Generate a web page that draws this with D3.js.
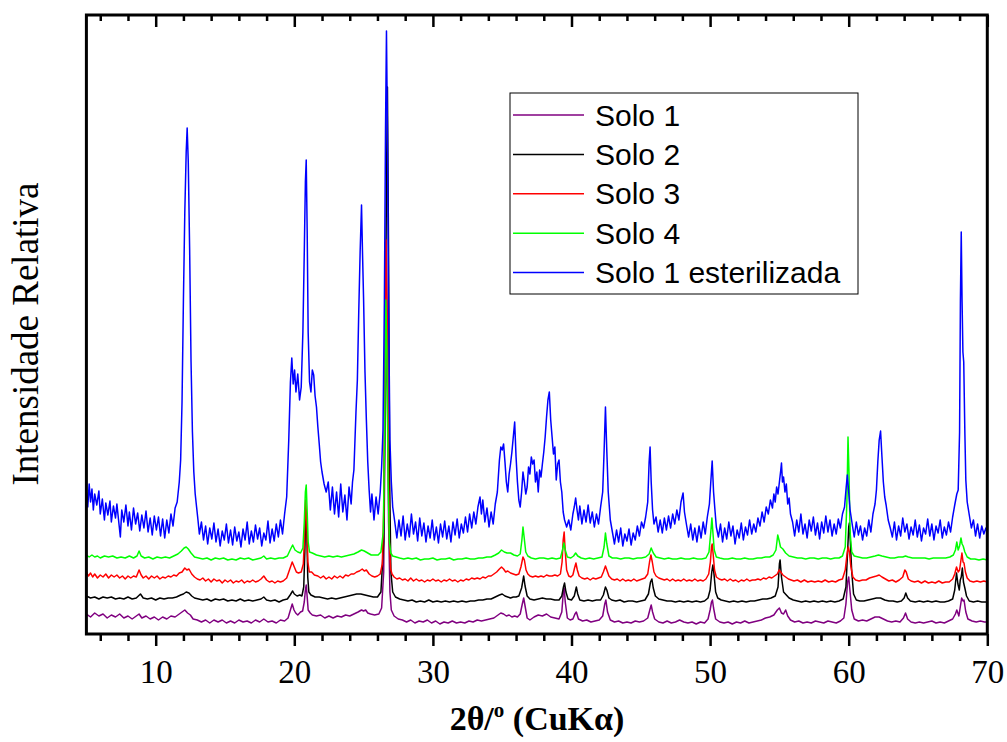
<!DOCTYPE html>
<html>
<head>
<meta charset="utf-8">
<title>DRX - solos</title>
<style>
  body { margin:0; background:#fff; }
  .eixo text { font-family:"Liberation Serif","Times New Roman",serif; font-size:33px; fill:#000; }
  .eixo path { display:none; }
  .eixo line { stroke:#000; stroke-width:2.5; }
  .leg text { font-family:"Liberation Sans",Arial,sans-serif; font-size:30px; fill:#000; }
</style>
</head>
<body>
<div id="grafico"></div>
<script src="https://d3js.org/d3.v7.min.js"></script>
<script>

// nomes e cores das series (ordem de desenho)
const serieNomes = ["Solo 1", "Solo 2", "Solo 3", "Solo 4", "Solo 1 esterilizada"];
const serieCores = ["#800080", "#000000", "#ff0000", "#00ff00", "#0000ff"];
const xTicks = [10, 20, 30, 40, 50, 60, 70];
const xMenores = [6, 8, 12, 14, 16, 18, 22, 24, 26, 28, 32, 34, 36, 38, 42, 44, 46, 48, 52, 54, 56, 58, 62, 64, 66, 68];

const solo1 = [[5.0,18],[5.3,15],[5.6,19],[5.9,16],[6.2,18],[6.5,14],[6.8,17],[7.1,15],[7.4,18],[7.7,14],[8.0,16],[8.3,13],[8.6,16],[8.8,18],[9.0,14],[9.3,16],[9.6,13],[9.9,15],[10.2,12],[10.5,15],[10.8,13],[11.1,16],[11.4,15],[11.7,18],[11.9,20],[12.1,22],[12.3,19],[12.5,17],[12.7,13],[13.0,12],[13.3,10],[13.6,12],[13.9,9],[14.2,12],[14.5,10],[14.8,12],[15.1,9],[15.4,11],[15.7,9],[16.0,12],[16.3,10],[16.6,11],[16.9,9],[17.2,12],[17.5,10],[17.8,13],[18.1,10],[18.4,11],[18.7,9],[19.0,12],[19.3,11],[19.55,14],[19.72,22],[19.85,28],[19.98,22],[20.1,19],[20.25,17],[20.45,20],[20.6,21],[20.72,30],[20.8,42],[20.86,47],[20.93,35],[21.0,22],[21.15,19],[21.3,17],[21.6,16],[21.9,17],[22.2,14],[22.5,16],[22.8,14],[23.1,16],[23.4,15],[23.7,17],[24.0,16],[24.3,18],[24.6,20],[24.85,22],[25.0,21],[25.15,22],[25.3,19],[25.5,18],[25.8,17],[26.1,18],[26.3,24],[26.45,60],[26.55,200],[26.65,302],[26.72,240],[26.8,110],[26.9,40],[27.0,22],[27.2,16],[27.5,13],[27.8,12],[28.1,10],[28.4,12],[28.7,9],[29.0,11],[29.3,10],[29.6,12],[29.9,9],[30.2,11],[30.5,8],[30.8,10],[31.1,9],[31.4,11],[31.7,9],[32.0,10],[32.3,9],[32.6,11],[32.9,10],[33.2,12],[33.5,11],[33.8,12],[34.1,13],[34.4,14],[34.7,17],[34.9,19],[35.1,18],[35.3,16],[35.5,17],[35.7,15],[35.9,16],[36.1,15],[36.3,18],[36.45,28],[36.55,34],[36.65,26],[36.8,14],[37.0,12],[37.3,15],[37.6,17],[37.9,16],[38.2,18],[38.5,15],[38.8,14],[39.1,13],[39.3,20],[39.4,38],[39.47,44],[39.55,30],[39.7,14],[39.9,12],[40.1,13],[40.25,18],[40.35,20],[40.5,13],[40.8,11],[41.1,12],[41.4,10],[41.7,11],[42.0,12],[42.25,16],[42.4,28],[42.48,32],[42.6,20],[42.8,12],[43.1,10],[43.4,11],[43.7,9],[44.0,10],[44.3,9],[44.6,11],[44.9,10],[45.2,11],[45.5,14],[45.65,22],[45.75,27],[45.85,20],[46.0,13],[46.3,10],[46.6,9],[46.9,11],[47.2,9],[47.5,10],[47.8,12],[48.1,10],[48.4,9],[48.7,10],[49.0,8],[49.3,10],[49.6,9],[49.85,13],[50.0,22],[50.1,30],[50.17,32],[50.25,24],[50.4,13],[50.7,10],[51.0,9],[51.3,10],[51.6,8],[51.9,10],[52.2,9],[52.5,11],[52.8,9],[53.1,10],[53.4,11],[53.7,12],[54.0,14],[54.3,15],[54.6,17],[54.85,22],[55.0,24],[55.15,19],[55.3,18],[55.45,22],[55.6,16],[55.8,12],[56.1,10],[56.4,11],[56.7,9],[57.0,10],[57.3,9],[57.6,11],[57.9,10],[58.2,9],[58.5,11],[58.8,10],[59.1,9],[59.4,11],[59.65,14],[59.8,28],[59.92,50],[60.0,55],[60.1,40],[60.22,22],[60.4,13],[60.7,11],[61.0,12],[61.3,11],[61.6,13],[61.9,15],[62.2,15],[62.5,13],[62.8,11],[63.1,10],[63.4,11],[63.7,10],[63.95,14],[64.1,19],[64.25,13],[64.5,10],[64.8,9],[65.1,10],[65.4,9],[65.7,10],[66.0,11],[66.3,9],[66.6,10],[66.9,9],[67.2,11],[67.5,13],[67.7,18],[67.8,22],[67.95,16],[68.05,25],[68.15,34],[68.25,31],[68.32,32],[68.45,20],[68.6,13],[68.9,11],[69.2,10],[69.5,11],[69.8,10],[70.0,10]];

const solo2 = [[5.0,36],[5.3,34],[5.6,35],[5.9,33],[6.2,35],[6.5,34],[6.8,35],[7.1,33],[7.4,34],[7.7,33],[8.0,35],[8.3,33],[8.6,34],[8.9,38],[9.1,34],[9.4,33],[9.7,34],[10.0,32],[10.3,34],[10.6,33],[10.9,34],[11.2,34],[11.5,35],[11.8,37],[12.0,38],[12.2,40],[12.4,39],[12.6,36],[12.8,34],[13.1,33],[13.4,32],[13.7,33],[14.0,31],[14.3,33],[14.6,32],[14.9,33],[15.2,31],[15.5,32],[15.8,31],[16.1,33],[16.4,31],[16.7,32],[17.0,31],[17.3,32],[17.6,33],[17.8,35],[18.0,32],[18.3,31],[18.6,32],[18.9,30],[19.2,32],[19.5,33],[19.7,37],[19.88,41],[20.0,38],[20.2,36],[20.4,37],[20.55,36],[20.68,45],[20.76,80],[20.83,122],[20.9,100],[20.97,55],[21.05,40],[21.2,37],[21.5,35],[21.8,35],[22.1,34],[22.4,33],[22.7,34],[23.0,33],[23.3,34],[23.6,35],[23.9,36],[24.2,37],[24.5,38],[24.8,38],[25.1,37],[25.4,36],[25.7,35],[26.0,35],[26.25,40],[26.45,90],[26.55,250],[26.65,450],[26.72,545],[26.8,380],[26.88,150],[26.97,60],[27.1,40],[27.3,35],[27.6,33],[27.9,32],[28.2,31],[28.5,32],[28.8,30],[29.1,31],[29.4,30],[29.7,32],[30.0,30],[30.3,31],[30.6,30],[30.9,31],[31.2,30],[31.5,31],[31.8,30],[32.1,31],[32.4,30],[32.7,31],[33.0,31],[33.3,32],[33.6,32],[33.9,33],[34.2,33],[34.5,35],[34.8,37],[35.0,38],[35.2,36],[35.4,35],[35.6,34],[35.8,35],[36.0,35],[36.2,36],[36.4,44],[36.55,56],[36.65,46],[36.8,36],[37.0,33],[37.3,32],[37.6,33],[37.9,34],[38.2,33],[38.5,33],[38.8,32],[39.1,32],[39.3,36],[39.42,45],[39.5,49],[39.6,40],[39.75,33],[40.0,32],[40.2,36],[40.35,45],[40.45,38],[40.6,32],[40.9,31],[41.2,32],[41.5,31],[41.8,32],[42.1,32],[42.3,37],[42.45,45],[42.55,42],[42.7,34],[42.9,32],[43.2,31],[43.5,32],[43.8,30],[44.1,31],[44.4,31],[44.7,30],[45.0,31],[45.3,32],[45.55,38],[45.7,50],[45.8,53],[45.9,44],[46.05,36],[46.3,33],[46.6,32],[46.9,31],[47.2,31],[47.5,30],[47.8,31],[48.1,30],[48.4,31],[48.7,30],[49.0,31],[49.3,30],[49.6,31],[49.85,34],[50.0,42],[50.12,60],[50.2,67],[50.28,58],[50.4,40],[50.55,34],[50.8,32],[51.1,31],[51.4,30],[51.7,31],[52.0,30],[52.3,31],[52.6,30],[52.9,31],[53.2,31],[53.5,32],[53.8,33],[54.1,33],[54.4,34],[54.7,36],[54.9,45],[55.0,68],[55.05,72],[55.15,55],[55.3,40],[55.5,37],[55.7,34],[56.0,32],[56.3,31],[56.6,30],[56.9,31],[57.2,30],[57.5,31],[57.8,30],[58.1,31],[58.4,30],[58.7,31],[59.0,30],[59.3,31],[59.6,33],[59.8,45],[59.92,80],[60.0,105],[60.05,109],[60.12,90],[60.22,60],[60.35,38],[60.55,32],[60.8,31],[61.1,31],[61.4,32],[61.7,33],[62.0,34],[62.3,34],[62.6,32],[62.9,31],[63.2,31],[63.5,30],[63.8,31],[64.0,34],[64.12,39],[64.25,34],[64.45,31],[64.8,30],[65.1,31],[65.4,30],[65.7,31],[66.0,30],[66.3,31],[66.6,30],[66.9,30],[67.2,31],[67.5,33],[67.65,42],[67.78,59],[67.88,48],[67.98,42],[68.05,52],[68.12,55],[68.2,64],[68.28,50],[68.38,44],[68.5,36],[68.7,31],[69.0,30],[69.3,31],[69.6,30],[70.0,30]];

const solo3 = [[5.0,60],[5.15,56],[5.3,59],[5.45,55],[5.6,58],[5.8,54],[6.0,57],[6.2,55],[6.4,58],[6.6,54],[6.8,57],[7.0,55],[7.2,57],[7.4,54],[7.6,56],[7.8,53],[8.0,56],[8.2,54],[8.4,56],[8.6,55],[8.8,62],[8.95,57],[9.1,54],[9.3,56],[9.5,53],[9.7,56],[9.9,54],[10.1,56],[10.3,53],[10.5,55],[10.7,54],[10.9,56],[11.1,55],[11.3,57],[11.5,56],[11.7,59],[11.9,60],[12.1,64],[12.25,62],[12.4,63],[12.6,58],[12.8,55],[13.0,53],[13.2,52],[13.4,54],[13.6,51],[13.8,53],[14.0,50],[14.2,53],[14.4,51],[14.6,52],[14.8,49],[15.0,52],[15.2,50],[15.4,52],[15.6,49],[15.8,51],[16.0,50],[16.2,52],[16.4,49],[16.6,51],[16.8,50],[17.0,52],[17.2,50],[17.4,51],[17.6,53],[17.8,56],[18.0,52],[18.2,50],[18.4,51],[18.6,49],[18.8,51],[19.0,50],[19.2,51],[19.45,54],[19.65,62],[19.85,70],[20.0,65],[20.15,60],[20.3,59],[20.5,60],[20.65,68],[20.74,95],[20.82,132],[20.9,110],[20.98,70],[21.08,60],[21.25,60],[21.45,57],[21.7,56],[21.9,54],[22.1,56],[22.3,53],[22.5,55],[22.7,53],[22.9,56],[23.1,54],[23.3,56],[23.5,54],[23.7,57],[23.9,56],[24.1,58],[24.3,58],[24.5,60],[24.7,61],[24.9,63],[25.05,61],[25.2,62],[25.4,58],[25.6,56],[25.8,55],[26.0,56],[26.2,58],[26.35,68],[26.45,120],[26.55,290],[26.62,392],[26.7,330],[26.78,180],[26.86,90],[26.95,63],[27.05,58],[27.2,55],[27.4,53],[27.6,54],[27.8,52],[28.0,53],[28.2,51],[28.4,54],[28.6,51],[28.8,53],[29.0,51],[29.2,52],[29.4,50],[29.6,52],[29.8,51],[30.0,53],[30.2,51],[30.4,52],[30.6,50],[30.8,52],[31.0,51],[31.2,53],[31.4,51],[31.6,52],[31.8,50],[32.0,52],[32.2,51],[32.4,53],[32.6,52],[32.8,54],[33.0,53],[33.2,54],[33.4,53],[33.6,55],[33.8,54],[34.0,56],[34.2,56],[34.4,58],[34.6,60],[34.8,63],[34.95,65],[35.1,63],[35.25,60],[35.4,61],[35.6,59],[35.8,58],[36.0,57],[36.2,58],[36.35,65],[36.5,75],[36.6,72],[36.72,62],[36.85,58],[37.0,56],[37.2,55],[37.4,56],[37.6,55],[37.8,56],[38.0,55],[38.2,57],[38.4,56],[38.6,56],[38.8,57],[39.0,56],[39.2,58],[39.32,70],[39.4,92],[39.47,100],[39.55,80],[39.65,62],[39.8,56],[39.95,55],[40.1,57],[40.22,64],[40.32,69],[40.42,62],[40.55,56],[40.75,54],[40.95,53],[41.15,54],[41.35,52],[41.55,54],[41.75,53],[41.95,54],[42.15,55],[42.3,60],[42.45,66],[42.55,62],[42.7,56],[42.9,53],[43.1,52],[43.3,53],[43.5,51],[43.7,53],[43.9,51],[44.1,52],[44.3,51],[44.5,53],[44.7,51],[44.9,52],[45.1,53],[45.3,54],[45.5,58],[45.63,70],[45.73,77],[45.83,70],[45.95,60],[46.1,56],[46.3,54],[46.5,53],[46.7,52],[46.9,53],[47.1,51],[47.3,53],[47.5,51],[47.7,52],[47.9,51],[48.1,53],[48.3,51],[48.5,52],[48.7,51],[48.9,53],[49.1,51],[49.3,52],[49.5,51],[49.7,53],[49.9,58],[50.02,70],[50.1,85],[50.15,88],[50.22,78],[50.32,62],[50.45,55],[50.65,53],[50.85,52],[51.05,53],[51.25,51],[51.45,53],[51.65,51],[51.85,52],[52.05,50],[52.25,52],[52.45,51],[52.65,53],[52.85,51],[53.05,52],[53.25,52],[53.45,53],[53.65,52],[53.85,54],[54.05,53],[54.25,55],[54.45,54],[54.65,56],[54.85,58],[54.98,62],[55.1,60],[55.25,57],[55.45,55],[55.65,53],[55.85,52],[56.05,51],[56.3,52],[56.55,50],[56.8,52],[57.05,50],[57.3,51],[57.55,50],[57.8,51],[58.05,50],[58.3,52],[58.55,50],[58.8,51],[59.05,50],[59.3,52],[59.55,53],[59.75,62],[59.88,78],[59.97,85],[60.05,80],[60.15,66],[60.3,55],[60.5,52],[60.75,51],[61.0,52],[61.25,52],[61.5,54],[61.75,55],[62.0,56],[62.2,57],[62.4,55],[62.65,53],[62.9,51],[63.15,52],[63.4,50],[63.65,52],[63.9,55],[64.05,62],[64.15,60],[64.3,53],[64.5,51],[64.75,50],[65.0,51],[65.25,49],[65.5,51],[65.75,49],[66.0,50],[66.25,49],[66.5,51],[66.75,49],[67.0,50],[67.25,50],[67.5,53],[67.65,58],[67.78,65],[67.9,60],[68.0,62],[68.1,72],[68.17,79],[68.25,70],[68.32,69],[68.42,60],[68.55,54],[68.75,51],[69.0,50],[69.25,51],[69.5,50],[69.75,51],[70.0,50]];

const solo4 = [[5.0,77],[5.2,75],[5.4,77],[5.6,75],[5.8,76],[6.0,74],[6.3,76],[6.6,75],[6.9,76],[7.2,74],[7.5,75],[7.8,74],[8.1,76],[8.4,74],[8.65,76],[8.8,81],[8.95,76],[9.2,74],[9.5,75],[9.8,73],[10.1,75],[10.4,74],[10.7,75],[11.0,74],[11.3,76],[11.6,78],[11.85,81],[12.05,84],[12.2,85],[12.35,83],[12.55,79],[12.8,75],[13.1,74],[13.4,73],[13.7,74],[14.0,72],[14.3,74],[14.6,73],[14.9,74],[15.2,72],[15.5,73],[15.8,72],[16.1,74],[16.4,73],[16.7,74],[17.0,72],[17.3,73],[17.6,74],[17.8,76],[18.0,73],[18.3,74],[18.6,73],[18.9,74],[19.2,74],[19.5,76],[19.7,82],[19.88,87],[20.05,82],[20.25,80],[20.45,79],[20.62,84],[20.72,110],[20.8,140],[20.86,147],[20.93,120],[21.0,90],[21.1,80],[21.3,79],[21.6,77],[21.9,76],[22.2,75],[22.5,76],[22.8,75],[23.1,76],[23.4,75],[23.7,76],[24.0,77],[24.3,78],[24.6,80],[24.85,82],[25.05,81],[25.3,79],[25.55,77],[25.8,77],[26.05,77],[26.25,80],[26.42,100],[26.52,200],[26.6,332],[26.68,280],[26.77,150],[26.86,90],[26.96,79],[27.1,76],[27.35,75],[27.6,74],[27.9,73],[28.2,74],[28.5,73],[28.8,74],[29.1,72],[29.4,73],[29.7,73],[30.0,74],[30.3,72],[30.6,73],[30.9,73],[31.2,74],[31.5,72],[31.8,73],[32.1,73],[32.4,74],[32.7,73],[33.0,73],[33.3,74],[33.6,74],[33.9,75],[34.2,75],[34.5,77],[34.75,79],[34.95,82],[35.15,80],[35.35,79],[35.6,79],[35.85,77],[36.1,76],[36.3,78],[36.42,92],[36.5,105],[36.58,95],[36.7,80],[36.85,76],[37.1,74],[37.4,73],[37.7,74],[38.0,74],[38.3,73],[38.6,74],[38.9,73],[39.2,74],[39.35,82],[39.45,89],[39.55,82],[39.7,75],[39.95,74],[40.15,76],[40.3,79],[40.45,76],[40.7,74],[41.0,73],[41.3,74],[41.6,73],[41.9,74],[42.2,75],[42.35,85],[42.45,99],[42.55,88],[42.7,76],[42.95,74],[43.25,74],[43.55,73],[43.85,74],[44.15,74],[44.45,73],[44.75,74],[45.05,74],[45.35,75],[45.6,78],[45.75,84],[45.9,79],[46.1,75],[46.4,74],[46.7,73],[47.0,74],[47.3,73],[47.6,73],[47.9,74],[48.2,73],[48.5,73],[48.8,74],[49.1,73],[49.4,73],[49.7,74],[49.92,80],[50.05,100],[50.13,114],[50.2,100],[50.3,82],[50.45,75],[50.7,74],[51.0,73],[51.3,73],[51.6,74],[51.9,73],[52.2,73],[52.5,74],[52.8,73],[53.1,73],[53.4,74],[53.7,74],[54.0,75],[54.3,75],[54.55,77],[54.75,82],[54.88,97],[54.97,92],[55.08,85],[55.25,83],[55.45,79],[55.7,76],[56.0,75],[56.3,74],[56.6,74],[56.9,73],[57.2,74],[57.5,74],[57.8,73],[58.1,74],[58.4,74],[58.7,73],[59.0,74],[59.3,74],[59.55,76],[59.75,85],[59.87,130],[59.95,195],[60.02,160],[60.1,100],[60.22,80],[60.4,76],[60.7,75],[61.0,74],[61.3,74],[61.6,75],[61.9,76],[62.15,77],[62.4,76],[62.7,75],[63.0,74],[63.3,74],[63.6,75],[63.9,75],[64.1,76],[64.3,75],[64.6,74],[64.9,74],[65.2,74],[65.5,74],[65.8,73],[66.1,74],[66.4,74],[66.7,74],[67.0,74],[67.3,75],[67.55,77],[67.7,82],[67.8,90],[67.9,82],[68.0,86],[68.1,94],[68.18,88],[68.26,86],[68.38,80],[68.55,75],[68.8,73],[69.1,73],[69.4,72],[69.7,73],[70.0,72]];

const solo1Est = [[5.0,140],[5.1,125],[5.2,148],[5.3,130],[5.4,143],[5.5,122],[5.6,138],[5.75,127],[5.9,141],[6.0,118],[6.15,133],[6.3,112],[6.4,129],[6.55,117],[6.7,131],[6.8,110],[6.95,126],[7.1,114],[7.2,128],[7.35,108],[7.45,95],[7.55,122],[7.7,110],[7.85,127],[8.0,106],[8.1,120],[8.25,102],[8.4,124],[8.55,108],[8.7,119],[8.85,101],[9.0,117],[9.15,104],[9.3,121],[9.45,100],[9.6,114],[9.75,97],[9.9,116],[10.05,102],[10.2,115],[10.35,96],[10.5,113],[10.65,94],[10.8,112],[10.95,99],[11.1,118],[11.25,106],[11.4,124],
  [11.55,130],[11.7,150],[11.8,172],[11.9,230],[12.0,332],[12.1,420],[12.2,480],[12.27,504],[12.35,470],[12.45,382],[12.55,270],[12.65,200],[12.75,160],[12.85,138],[12.95,125],[13.05,112],
  [13.15,98],[13.3,110],[13.45,92],[13.6,106],[13.75,88],[13.9,104],[14.05,93],[14.2,109],[14.35,90],[14.5,103],[14.65,86],[14.8,101],[14.95,92],[15.1,108],[15.25,89],[15.4,102],[15.55,87],[15.7,105],[15.85,91],[16.0,100],[16.15,85],[16.3,103],[16.45,92],[16.6,110],[16.75,88],[16.9,101],[17.05,90],[17.2,107],[17.35,93],[17.5,104],[17.65,86],[17.8,99],[17.95,92],[18.1,111],[18.25,89],[18.4,103],[18.55,91],[18.7,108],[18.85,95],[19.0,112],[19.15,98],[19.3,118],
  [19.45,135],[19.6,192],[19.72,250],[19.82,274],[19.92,248],[20.02,262],[20.12,240],[20.25,258],[20.38,232],[20.5,245],[20.62,300],[20.72,380],[20.8,450],[20.86,472],[20.93,400],[21.0,300],[21.1,250],[21.2,240],[21.3,262],[21.4,257],[21.5,236],[21.6,225],[21.7,205],[21.8,188],[21.9,170],[22.0,160],[22.15,148],[22.3,140],
  [22.45,150],[22.6,122],[22.75,145],[22.9,118],[23.05,140],[23.2,115],[23.35,148],[23.5,120],[23.65,137],[23.8,112],[23.95,145],[24.1,128],[24.2,150],
  [24.3,162],[24.45,220],[24.55,252],[24.65,320],[24.75,380],[24.85,427],[24.92,380],[25.0,332],[25.1,260],[25.2,212],[25.3,170],[25.4,142],[25.5,120],[25.6,138],[25.75,112],[25.9,135],[26.05,118],[26.2,140],[26.3,165],
  [26.4,202],[26.5,330],[26.58,500],[26.65,601],[26.72,500],[26.8,330],[26.9,192],[27.0,150],[27.1,125],
  [27.25,110],[27.4,94],[27.55,112],[27.7,96],[27.85,116],[28.0,92],[28.15,108],[28.3,95],[28.45,118],[28.6,98],[28.75,110],[28.9,91],[29.05,114],[29.2,96],[29.35,109],[29.5,90],[29.65,106],[29.8,94],[29.95,112],[30.1,92],[30.25,105],[30.4,89],[30.55,108],[30.7,95],[30.85,111],[31.0,93],[31.15,106],[31.3,90],[31.45,110],[31.6,97],[31.75,113],[31.9,94],[32.05,108],[32.2,99],[32.35,115],[32.5,100],[32.65,118],[32.8,104],[32.95,120],
  [33.1,108],[33.25,125],[33.4,135],[33.5,118],[33.6,132],[33.75,110],[33.9,124],[34.05,105],[34.2,120],[34.35,108],[34.5,128],[34.65,140],
  [34.8,172],[34.9,185],[35.0,182],[35.1,188],[35.2,170],[35.3,150],[35.4,140],[35.5,158],[35.6,168],[35.7,180],[35.8,195],[35.9,210],[36.0,175],[36.1,150],[36.2,132],[36.3,125],[36.4,140],[36.5,160],[36.6,150],[36.7,138],[36.8,145],[36.9,165],[37.0,158],[37.1,175],[37.2,168],[37.3,172],[37.4,150],[37.5,160],[37.6,140],[37.7,162],[37.8,155],[37.9,168],[38.0,180],[38.1,195],[38.2,215],[38.3,232],[38.4,240],[38.5,212],[38.6,195],[38.7,178],[38.8,185],[38.9,152],[39.0,168],[39.1,172],[39.2,150],[39.3,140],[39.4,120],[39.5,112],
  [39.65,105],[39.8,112],[39.95,102],[40.1,118],[40.2,125],[40.3,134],[40.4,122],[40.5,112],[40.6,126],[40.75,108],[40.9,122],[41.05,110],[41.2,127],[41.35,109],[41.5,120],[41.65,105],[41.8,118],[41.95,108],[42.1,125],[42.25,140],[42.35,180],[42.45,225],[42.55,180],[42.65,140],[42.8,112],
  [42.95,100],[43.1,88],[43.25,102],[43.4,90],[43.55,104],[43.7,86],[43.85,98],[44.0,91],[44.15,103],[44.3,87],[44.45,99],[44.6,92],[44.75,106],[44.9,96],[45.05,110],[45.2,104],[45.35,115],[45.5,130],[45.6,170],[45.67,185],[45.75,150],[45.85,122],[45.95,108],
  [46.1,115],[46.25,100],[46.4,112],[46.55,99],[46.7,114],[46.85,102],[47.0,116],[47.15,104],[47.3,118],[47.45,108],[47.6,122],[47.75,112],[47.9,130],[48.05,139],[48.15,120],[48.3,107],
  [48.45,95],[48.6,108],[48.75,92],[48.9,104],[49.05,90],[49.2,106],[49.35,94],[49.5,110],[49.65,98],[49.8,115],[49.95,128],[50.05,150],[50.15,171],[50.25,140],[50.35,122],[50.45,105],
  [50.6,95],[50.75,108],[50.9,90],[51.05,104],[51.2,93],[51.35,110],[51.5,96],[51.65,106],[51.8,88],[51.95,102],[52.1,94],[52.25,109],[52.4,92],[52.55,105],[52.7,97],[52.85,112],[53.0,98],[53.15,108],[53.3,100],[53.45,114],[53.6,106],
  [53.75,120],[53.9,110],[54.05,125],[54.2,118],[54.35,132],[54.5,124],[54.6,138],[54.7,130],[54.8,145],[54.9,138],[55.0,150],[55.1,162],[55.15,169],[55.22,150],[55.3,155],[55.4,140],[55.5,148],[55.6,128],[55.7,134],[55.8,118],
  [55.95,110],[56.1,96],[56.25,112],[56.4,100],[56.55,118],[56.7,98],[56.85,108],[57.0,94],[57.15,112],[57.3,101],[57.45,115],[57.6,97],[57.75,109],[57.9,93],[58.05,110],[58.2,99],[58.35,116],[58.5,100],[58.65,112],[58.8,96],[58.95,108],[59.1,98],[59.25,113],[59.4,104],[59.55,118],[59.7,125],[59.82,145],[59.9,157],[60.0,140],[60.1,122],
  [60.25,108],[60.4,95],[60.55,110],[60.7,97],[60.85,106],[61.0,92],[61.15,104],[61.3,96],[61.45,112],[61.6,100],[61.75,118],[61.9,128],[62.0,142],[62.1,170],[62.2,192],[62.3,201],[62.4,175],[62.5,150],[62.6,135],[62.7,127],[62.85,112],
  [63.0,104],[63.15,95],[63.3,110],[63.45,92],[63.6,106],[63.75,96],[63.9,114],[64.05,100],[64.2,108],[64.35,93],[64.5,105],[64.65,97],[64.8,112],[64.95,95],[65.1,107],[65.25,91],[65.4,104],[65.55,98],[65.7,113],[65.85,96],[66.0,108],[66.15,92],[66.3,106],[66.45,99],[66.6,112],[66.75,94],[66.9,105],[67.05,97],[67.2,110],[67.35,100],[67.5,115],[67.65,127],[67.8,138],[67.9,142],[68.0,200],[68.06,332],[68.12,400],[68.18,330],[68.24,280],[68.3,270],[68.38,200],[68.45,152],[68.55,130],[68.7,117],
  [68.85,104],[69.0,112],[69.15,96],[69.3,108],[69.45,94],[69.6,106],[69.75,98],[69.9,104],[70.0,100]];

const series = [solo1, solo2, solo3, solo4, solo1Est];

const W = 1007, H = 742;
const esq = 86.4, dir = 987.3, topo = 15, base = 634;

const svg = d3.select("#grafico").append("svg")
  .attr("width", W)
  .attr("height", H);

const x = d3.scaleLinear().domain([5, 70]).range([esq, dir]);
const y = d3.scaleLinear().domain([-2, 617]).range([base, topo]);

svg.append("clipPath").attr("id", "area")
  .append("rect")
  .attr("x", esq).attr("y", topo)
  .attr("width", dir - esq).attr("height", base - topo);

const linha = d3.line()
  .x(d => x(d[0]))
  .y(d => y(d[1]));

svg.append("g").attr("clip-path", "url(#area)")
  .selectAll("path")
  .data(series)
  .join("path")
  .attr("d", linha)
  .attr("fill", "none")
  .attr("stroke", (d, i) => serieCores[i])
  .attr("stroke-width", 1.5)
  .attr("stroke-linejoin", "round");

// eixo de baixo (ticks para fora)
svg.append("g").attr("class", "eixo")
  .attr("transform", "translate(0," + base + ")")
  .call(d3.axisBottom(x).tickValues(xTicks).tickSize(12).tickPadding(14).tickFormat(d3.format("d")));
svg.append("g").attr("class", "eixo")
  .attr("transform", "translate(0," + base + ")")
  .call(d3.axisBottom(x).tickValues(xMenores).tickSize(7).tickFormat(""));

// eixo de cima (ticks para dentro)
svg.append("g").attr("class", "eixo")
  .attr("transform", "translate(0," + topo + ")")
  .call(d3.axisBottom(x).tickValues(xTicks).tickSize(12).tickFormat(""));
svg.append("g").attr("class", "eixo")
  .attr("transform", "translate(0," + topo + ")")
  .call(d3.axisBottom(x).tickValues(xMenores).tickSize(6).tickFormat(""));

// moldura
svg.append("rect")
  .attr("x", esq).attr("y", topo)
  .attr("width", dir - esq).attr("height", base - topo)
  .attr("fill", "none")
  .attr("stroke", "#000")
  .attr("stroke-width", 3);

// titulos
const tx = svg.append("text")
  .attr("x", 537).attr("y", 730)
  .attr("text-anchor", "middle")
  .style("font-family", '"Liberation Serif","Times New Roman",serif')
  .style("font-size", "34px")
  .style("font-weight", "bold");
tx.append("tspan").text("2θ/");
tx.append("tspan").attr("dy", -13).style("font-size", "21px").text("o");
tx.append("tspan").attr("dy", 13).text(" (CuKα)");

svg.append("text")
  .attr("transform", "translate(38,334) rotate(-90)")
  .attr("text-anchor", "middle")
  .style("font-family", '"Liberation Serif","Times New Roman",serif')
  .style("font-size", "37px")
  .text("Intensidade Relativa");

// legenda
const leg = svg.append("g").attr("class", "leg");
leg.append("rect")
  .attr("x", 510).attr("y", 93)
  .attr("width", 348).attr("height", 201)
  .attr("fill", "#fff")
  .attr("stroke", "#000")
  .attr("stroke-width", 1);

const item = leg.selectAll("g.item")
  .data(serieNomes)
  .join("g")
  .attr("class", "item")
  .attr("transform", (d, i) => "translate(0," + (115 + i * 39.4) + ")");
item.append("line")
  .attr("x1", 513).attr("x2", 584)
  .attr("stroke", (d, i) => serieCores[i])
  .attr("stroke-width", 1.5);
item.append("text")
  .attr("x", 595).attr("y", 10.5)
  .text(d => d);

</script>
</body>
</html>
